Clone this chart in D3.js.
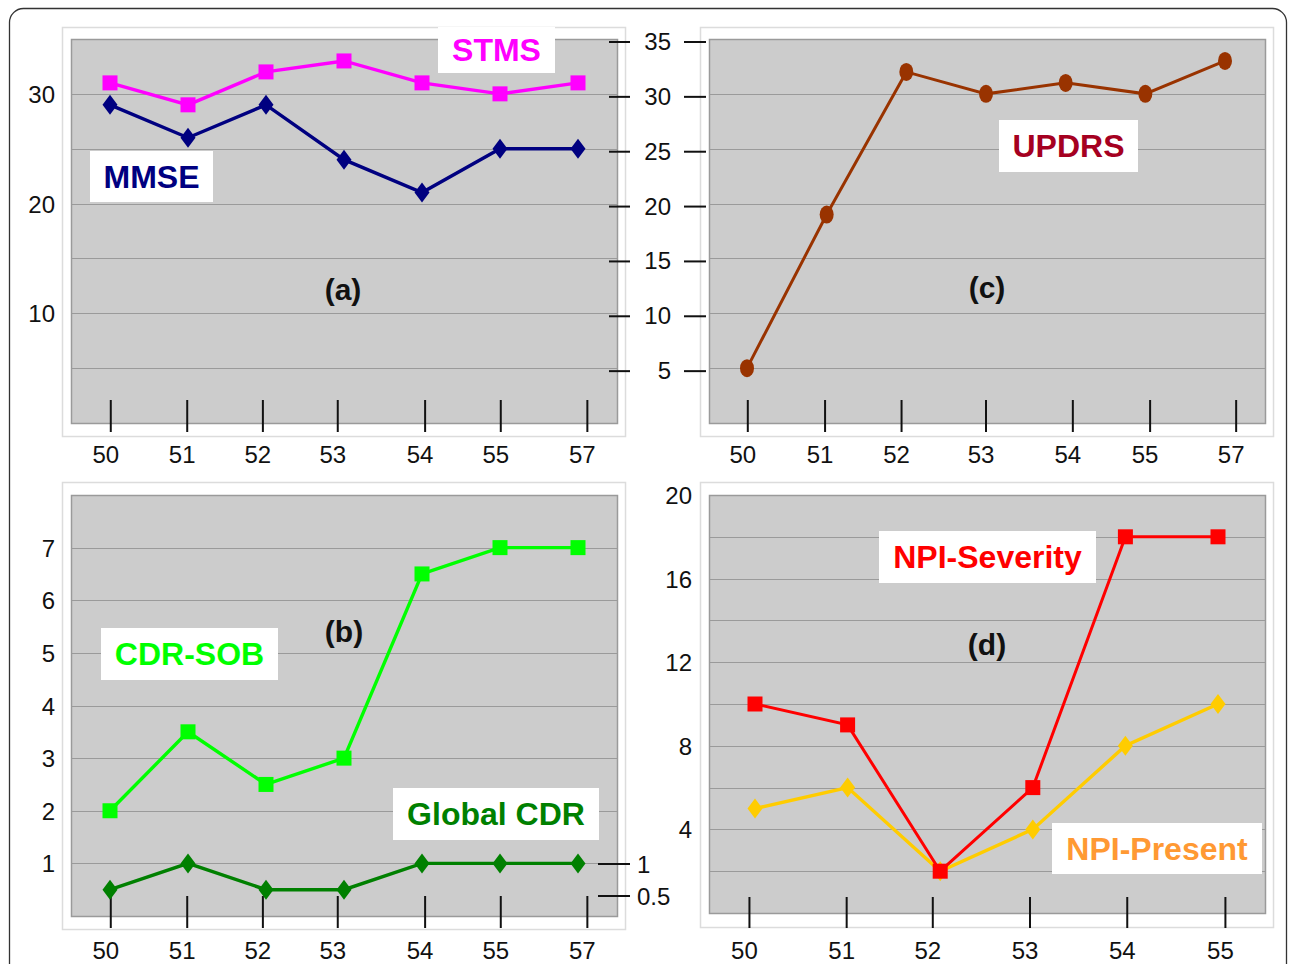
<!DOCTYPE html>
<html>
<head>
<meta charset="utf-8">
<script src="https://cdn.jsdelivr.net/npm/d3@7"></script>
<style>
  body { margin: 0; background: #fff; }
  svg text { font-family: "Liberation Sans", Arial, sans-serif; }
</style>
</head>
<body>
<div class="chart"></div>
<script>
// ages on the x axis
var ages7 = ["50", "51", "52", "53", "54", "55", "57"];
var ages6 = ["50", "51", "52", "53", "54", "55"];

// series
var mmse = [29, 26, 29, 24, 21, 25, 25];
var stms = [31, 29, 32, 33, 31, 30, 31];
var updrs = [5, 19, 32, 30, 31, 30, 33];
var cdrSob = [2, 3.5, 2.5, 3, 6.5, 7, 7];
var globalCdr = [0.5, 1, 0.5, 0.5, 1, 1, 1];
var npiSeverity = [10, 9, 2, 6, 18, 18];
var npiPresent = [5, 6, 2, 4, 8, 10];

// tick labels
var yTicksA = [10, 20, 30];
var yTicksC = [5, 10, 15, 20, 25, 30, 35];
var yTicksB = [1, 2, 3, 4, 5, 6, 7];
var yTicksBRight = [1, 0.5];
var yTicksD = [4, 8, 12, 16, 20];

// where the hand-drawn x ticks sit (in category steps)
var tickAt7 = [0.01, 0.99, 1.96, 2.92, 4.04, 5.01, 6.12];
var tickAtC = [0.01, 0.98, 1.94, 3.0, 4.09, 5.06, 6.14];
var tickAt6 = [-0.06, 0.99, 1.92, 2.97, 4.02, 5.08];

var width = 1289, height = 964;
var svg = d3.select(".chart").append("svg")
  .attr("width", width)
  .attr("height", height);

// outer frame
svg.append("rect")
  .attr("x", 9.5).attr("y", 8.5)
  .attr("width", 1277).attr("height", 990)
  .attr("rx", 14).attr("ry", 14)
  .attr("fill", "none")
  .attr("stroke", "#333").attr("stroke-width", 1.3);

function panel(p) {
  var g = svg.append("g");
  g.append("rect")
    .attr("x", p.box[0] + 0.5).attr("y", p.box[1] + 0.5)
    .attr("width", p.box[2] - p.box[0]).attr("height", p.box[3] - p.box[1])
    .attr("fill", "#fff").attr("stroke", "#dcdcdc").attr("stroke-width", 1.5);
  g.append("rect")
    .attr("x", p.plot[0] + 0.5).attr("y", p.plot[1] + 0.5)
    .attr("width", p.plot[2] - p.plot[0]).attr("height", p.plot[3] - p.plot[1])
    .attr("fill", "#cccccc").attr("stroke", "#9a9a9a").attr("stroke-width", 1.5);

  var x = d3.scaleLinear().domain([0, p.cats.length - 1]).range(p.xr);
  var y = d3.scaleLinear().domain(p.yd).range([p.plot[3], p.plot[1]]);

  // gridlines
  g.selectAll(".grid").data(d3.range(p.gridStep, p.yd[1], p.gridStep)).enter()
    .append("line")
    .attr("x1", p.plot[0]).attr("x2", p.plot[2])
    .attr("y1", function(d) { return Math.round(y(d)) + 0.5; })
    .attr("y2", function(d) { return Math.round(y(d)) + 0.5; })
    .attr("stroke", "#9a9a9a").attr("stroke-width", 1.2);

  // x ticks
  g.selectAll(".xt").data(p.tickAt).enter().append("line")
    .attr("x1", function(d) { return x(d); }).attr("x2", function(d) { return x(d); })
    .attr("y1", p.xTick[0]).attr("y2", p.xTick[1])
    .attr("stroke", "#111").attr("stroke-width", 2);
  g.selectAll(".xl").data(p.cats).enter().append("text")
    .attr("x", function(d, i) { return x(p.tickAt[i]) - 5; })
    .attr("y", p.xLabelY)
    .attr("text-anchor", "middle")
    .attr("font-size", 24).attr("fill", "#111")
    .text(function(d) { return d; });

  // y labels on the left
  if (p.yLeft) {
    g.selectAll(".yl").data(p.yLeft).enter().append("text")
      .attr("x", p.yLeftX).attr("y", function(d) { return y(d) + 9; })
      .attr("text-anchor", "end")
      .attr("font-size", 24).attr("fill", "#111")
      .text(function(d) { return d; });
  }

  p.series.forEach(function(s) {
    var line = d3.line()
      .x(function(d, i) { return x(i); })
      .y(function(d) { return y(d); });
    g.append("path").datum(s.values)
      .attr("d", line)
      .attr("fill", "none").attr("stroke", s.color).attr("stroke-width", s.w || 3.4);
    var m = g.selectAll(null).data(s.values).enter();
    if (s.marker == "square") {
      m.append("rect")
        .attr("x", function(d, i) { return x(i) - 7.5; })
        .attr("y", function(d) { return y(d) - 7.5; })
        .attr("width", 15).attr("height", 15)
        .attr("fill", s.color);
    } else if (s.marker == "diamond") {
      m.append("path")
        .attr("d", function(d, i) {
          var cx = x(i), cy = y(d);
          return "M" + cx + "," + (cy - 10) + "L" + (cx + 7.5) + "," + cy +
            "L" + cx + "," + (cy + 10) + "L" + (cx - 7.5) + "," + cy + "Z";
        })
        .attr("fill", s.color);
    } else {
      m.append("ellipse")
        .attr("cx", function(d, i) { return x(i); })
        .attr("cy", function(d) { return y(d); })
        .attr("rx", 7).attr("ry", 9)
        .attr("fill", s.color);
    }
  });

  (p.labels || []).forEach(function(l) {
    g.append("rect")
      .attr("x", l.box[0]).attr("y", l.box[1])
      .attr("width", l.box[2] - l.box[0]).attr("height", l.box[3] - l.box[1])
      .attr("fill", "#fff");
    g.append("text")
      .attr("x", (l.box[0] + l.box[2]) / 2).attr("y", (l.box[1] + l.box[3]) / 2 + 11)
      .attr("text-anchor", "middle")
      .attr("font-size", 32).attr("font-weight", "bold")
      .attr("fill", l.color)
      .text(l.text);
  });

  g.append("text")
    .attr("x", p.tag[0]).attr("y", p.tag[1])
    .attr("text-anchor", "middle")
    .attr("font-size", 30).attr("font-weight", "bold").attr("fill", "#111")
    .text(p.tag[2]);

  return { x: x, y: y, g: g };
}

// (a)
var pa = panel({
  box: [62, 27, 625, 436], plot: [71, 39, 617, 423],
  cats: ages7, xr: [110, 578], yd: [0, 35], gridStep: 5,
  tickAt: tickAt7, xTick: [400, 432], xLabelY: 463,
  yLeft: yTicksA, yLeftX: 55,
  series: [
    { values: stms, color: "#ff00ff", marker: "square" },
    { values: mmse, color: "#000080", marker: "diamond" }
  ],
  labels: [
    { text: "STMS", color: "#ff00ff", box: [438, 27, 555, 73] },
    { text: "MMSE", color: "#000080", box: [90, 151, 213, 202] }
  ],
  tag: [343, 300, "(a)"]
});

// (c)
var pc = panel({
  box: [700, 27, 1273, 436], plot: [709, 39, 1265, 423],
  cats: ages7, xr: [747, 1225], yd: [0, 35], gridStep: 5,
  tickAt: tickAtC, xTick: [400, 432], xLabelY: 463,
  series: [
    { values: updrs, color: "#993300", marker: "circle", w: 3 }
  ],
  labels: [
    { text: "UPDRS", color: "#a50021", box: [999, 120, 1138, 172] }
  ],
  tag: [987, 298, "(c)"]
});

// shared axis between (a) and (c), with ticks on both sides
var mid = svg.append("g");
mid.selectAll(".t1").data(yTicksC).enter().append("line")
  .attr("x1", 609).attr("x2", 630)
  .attr("y1", function(d) { return pc.y(d) + 3; }).attr("y2", function(d) { return pc.y(d) + 3; })
  .attr("stroke", "#111").attr("stroke-width", 2);
mid.selectAll(".t2").data(yTicksC).enter().append("line")
  .attr("x1", 684).attr("x2", 706)
  .attr("y1", function(d) { return pc.y(d) + 3; }).attr("y2", function(d) { return pc.y(d) + 3; })
  .attr("stroke", "#111").attr("stroke-width", 2);
mid.selectAll(".tl").data(yTicksC).enter().append("text")
  .attr("x", 671).attr("y", function(d) { return pc.y(d) + 11; })
  .attr("text-anchor", "end")
  .attr("font-size", 24).attr("fill", "#111")
  .text(function(d) { return d; });

// (b)
var pb = panel({
  box: [62, 482, 625, 929], plot: [71, 495, 617, 916],
  cats: ages7, xr: [110, 578], yd: [0, 8], gridStep: 1,
  tickAt: tickAt7, xTick: [896, 928], xLabelY: 959,
  yLeft: yTicksB, yLeftX: 55,
  series: [
    { values: cdrSob, color: "#00ff00", marker: "square" },
    { values: globalCdr, color: "#008000", marker: "diamond" }
  ],
  labels: [
    { text: "CDR-SOB", color: "#00ff00", box: [101, 628, 278, 680] },
    { text: "Global CDR", color: "#008000", box: [393, 788, 599, 840] }
  ],
  tag: [344, 642, "(b)"]
});

// right axis of (b) for the global CDR
var yr = d3.scaleLinear().domain([0, 1]).range([928, 864]);
var rb = svg.append("g");
rb.selectAll("line").data(yTicksBRight).enter().append("line")
  .attr("x1", 598).attr("x2", 630)
  .attr("y1", function(d) { return yr(d); }).attr("y2", function(d) { return yr(d); })
  .attr("stroke", "#111").attr("stroke-width", 2);
rb.selectAll("text").data(yTicksBRight).enter().append("text")
  .attr("x", 637).attr("y", function(d) { return yr(d) + 9; })
  .attr("font-size", 24).attr("fill", "#111")
  .text(function(d) { return d; });

// (d) -- severity drawn last so its squares sit on top
var pd = panel({
  box: [700, 482, 1273, 927], plot: [709, 495, 1265, 913],
  cats: ages6, xr: [755, 1218], yd: [0, 20], gridStep: 2,
  tickAt: tickAt6, xTick: [897, 928], xLabelY: 959,
  yLeft: yTicksD, yLeftX: 692,
  series: [
    { values: npiPresent, color: "#ffcc00", marker: "diamond" },
    { values: npiSeverity, color: "#ff0000", marker: "square", w: 3 }
  ],
  labels: [
    { text: "NPI-Severity", color: "#ff0000", box: [879, 531, 1096, 583] },
    { text: "NPI-Present", color: "#ff9933", box: [1052, 823, 1262, 874] }
  ],
  tag: [987, 655, "(d)"]
});
</script>
</body>
</html>
